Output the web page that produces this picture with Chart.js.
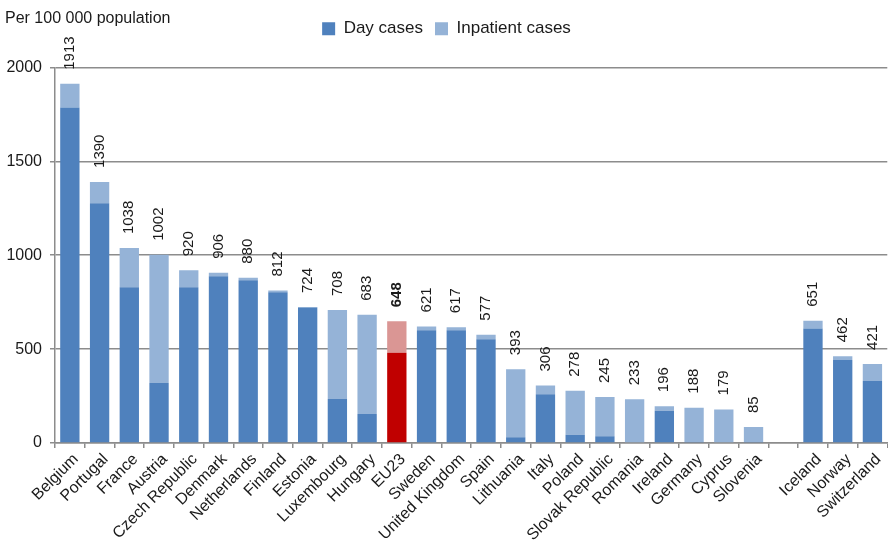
<!DOCTYPE html>
<html>
<head>
<meta charset="utf-8">
<script src="https://cdn.jsdelivr.net/npm/chart.js@4.4.0/dist/chart.umd.min.js"></script>
<style>
  html, body { margin: 0; padding: 0; background: #fff; }
  #wrap { width: 888px; height: 545px; }
</style>
</head>
<body>
<div id="wrap"><canvas id="bar-chart" width="888" height="545"></canvas></div>
<script>
var countries = [
  "Belgium", "Portugal", "France", "Austria", "Czech Republic", "Denmark",
  "Netherlands", "Finland", "Estonia", "Luxembourg", "Hungary", "EU23",
  "Sweden", "United Kingdom", "Spain", "Lithuania", "Italy", "Poland",
  "Slovak Republic", "Romania", "Ireland", "Germany", "Cyprus", "Slovenia",
  "", "Iceland", "Norway", "Switzerland"
];
var dayCases = [
  1787, 1277, 830, 319, 830, 888, 867, 803, 722, 234, 154, 480,
  601, 601, 553, 30, 259, 44, 36, 0, 172, 5, 0, 5,
  null, 610, 442, 330
];
var inpatientCases = [
  126, 113, 208, 683, 90, 18, 13, 9, 2, 474, 529, 168,
  20, 16, 24, 363, 47, 234, 209, 233, 24, 183, 179, 80,
  null, 41, 20, 91
];
var yTicks = [0, 500, 1000, 1500, 2000];
var highlight = "EU23";
var FONT = "'Liberation Sans', Arial, sans-serif";

// totals written vertically above each stack
var totalLabels = {
  id: "totalLabels",
  afterDatasetsDraw: function (chart) {
    var ctx = chart.ctx;
    var x = chart.scales.x;
    var y = chart.scales.y;
    ctx.save();
    ctx.fillStyle = "#1a1a1a";
    ctx.textAlign = "left";
    ctx.textBaseline = "middle";
    countries.forEach(function (c, i) {
      if (dayCases[i] === null) return;
      var total = dayCases[i] + inpatientCases[i];
      ctx.font = (c === highlight ? "bold " : "") + "15px " + FONT;
      ctx.save();
      ctx.translate(x.getPixelForValue(i), y.getPixelForValue(total) - 14);
      ctx.rotate(-Math.PI / 2);
      ctx.fillText(String(total), 0, 0);
      ctx.restore();
    });
    ctx.restore();
  }
};

function casesChart() {
  new Chart(document.getElementById("bar-chart"), {
    type: "bar",
    data: {
      labels: countries,
      datasets: [
        {
          label: "Day cases",
          data: dayCases,
          backgroundColor: countries.map(function (c) {
            return c === highlight ? "#c00000" : "#4f81bd";
          }),
          barPercentage: 1,
          categoryPercentage: 0.65,
        },
        {
          label: "Inpatient cases",
          data: inpatientCases,
          backgroundColor: countries.map(function (c) {
            return c === highlight ? "#da9694" : "#95b3d7";
          }),
          barPercentage: 1,
          categoryPercentage: 0.65,
        },
      ],
    },
    options: {
      responsive: false,
      animation: false,
      layout: { padding: { top: 0, right: 0, left: 5, bottom: 0 } },
      plugins: {
        tooltip: { enabled: false },
        title: {
          display: true,
          text: "Per 100 000 population",
          align: "start",
          color: "#1a1a1a",
          font: { family: FONT, size: 16, weight: "normal" },
          padding: { top: 9, bottom: -20 },
        },
        // empty spacer between legend and plot
        subtitle: {
          display: true,
          text: " ",
          weight: 500,
          font: { family: FONT, size: 16 },
          padding: { top: 1, bottom: 0 },
        },
        legend: {
          labels: {
            boxWidth: 13,
            boxHeight: 13,
            color: "#1a1a1a",
            font: { family: FONT, size: 17 },
            padding: 12,
          },
        },
      },
      scales: {
        x: {
          stacked: true,
          grid: {
            display: true,
            drawOnChartArea: false,
            offset: true,
            tickLength: 5,
            color: "#8c8c8c",
            lineWidth: 1.5,
          },
          border: { color: "#8c8c8c", width: 1.5 },
          ticks: {
            autoSkip: false,
            maxRotation: 45,
            minRotation: 45,
            color: "#1a1a1a",
            padding: 2,
            labelOffset: 6,
            font: { family: FONT, size: 16 },
          },
          afterFit: function (scale) { scale.height = 102; },
        },
        y: {
          stacked: true,
          min: yTicks[0],
          max: yTicks[yTicks.length - 1],
          afterBuildTicks: function (scale) {
            scale.ticks = yTicks.map(function (v) { return { value: v }; });
          },
          grid: {
            color: "#8c8c8c",
            lineWidth: 1.5,
            tickLength: 5,
          },
          border: { color: "#8c8c8c", width: 1.5 },
          ticks: {
            color: "#1a1a1a",
            padding: 8,
            font: { family: FONT, size: 16 },
            callback: function (v) { return String(v); },
          },
          afterFit: function (scale) { scale.width = 50; },
        },
      },
    },
    plugins: [totalLabels],
  });
}

document.addEventListener("DOMContentLoaded", function () {
  casesChart();
});
</script>
</body>
</html>
